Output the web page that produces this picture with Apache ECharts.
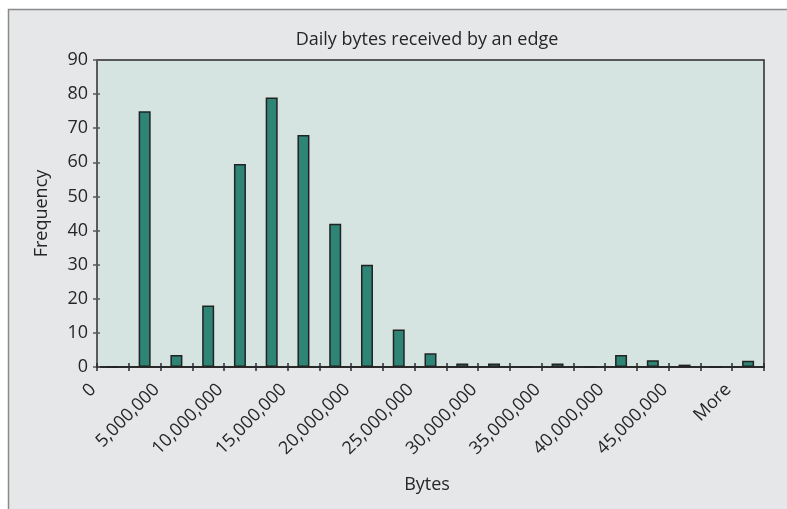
<!DOCTYPE html>
<html>
<head>
<meta charset="utf-8">
<script src="https://cdn.jsdelivr.net/npm/echarts@6/dist/echarts.min.js"></script>
<style>
html,body{margin:0;padding:0;background:#ffffff;}
#chart{width:787px;height:509px;}
</style>
</head>
<body>
<div id="chart"></div>
<script>
var categories = ['0','2,500,000','5,000,000','7,500,000','10,000,000','12,500,000','15,000,000','17,500,000','20,000,000','22,500,000','25,000,000','27,500,000','30,000,000','32,500,000','35,000,000','37,500,000','40,000,000','42,500,000','45,000,000','47,500,000','More'];
var frequency = [0, 75, 3.5, 18, 59.5, 79, 68, 42, 30, 11, 4, 1, 1, 0, 1, 0, 3.5, 2, 0.7, 0, 1.8];
var yTicks = {min: 0, max: 90, interval: 10};
var titleText = 'Daily bytes received by an edge';
var xName = 'Bytes';
var yName = 'Frequency';

var FONT = 'Open Sans';
var TXT = '#262626';
var chart = echarts.init(document.getElementById('chart'), null, {renderer: 'canvas'});
var option = {
  animation: false,
  backgroundColor: '#ffffff',
  graphic: [{
    type: 'rect', z: -10, silent: true,
    shape: {x: 8.5, y: 9.5, width: 800, height: 520},
    style: {fill: '#e6e7e9', stroke: '#8a8a8a', lineWidth: 1.5}
  }],
  title: {
    text: titleText, left: 427, top: 31, padding: 0, textAlign: 'center',
    textStyle: {fontFamily: FONT, fontSize: 18, fontWeight: 'normal', color: TXT}
  },
  grid: {
    left: 97, right: 23, top: 60, bottom: 142,
    show: true, backgroundColor: '#d6e4e1', borderColor: '#2a2a2a', borderWidth: 1.5
  },
  xAxis: [{
    type: 'category', data: categories, boundaryGap: true,
    name: xName, nameLocation: 'middle', nameGap: 109,
    nameTextStyle: {fontFamily: FONT, fontSize: 18, color: TXT, padding: [0, 7, 0, 0]},
    axisLine: {lineStyle: {color: '#2a2a2a', width: 2}},
    axisTick: {show: true, interval: 0, length: 4, lineStyle: {color: '#2a2a2a', width: 1.5}},
    axisLabel: {interval: 1, rotate: 45, margin: 0, padding: [0, 28, 0, 0],
      fontFamily: FONT, fontSize: 18, color: TXT},
    splitLine: {show: false}
  }, {
    type: 'category', data: categories, boundaryGap: true, position: 'bottom',
    axisLine: {show: false},
    axisTick: {show: true, inside: true, interval: 0, length: 4, lineStyle: {color: '#2a2a2a', width: 1.5}},
    axisLabel: {show: false}, splitLine: {show: false}
  }],
  yAxis: [{
    type: 'value', min: yTicks.min, max: yTicks.max, interval: yTicks.interval,
    name: yName, nameLocation: 'middle', nameGap: 46,
    nameTextStyle: {fontFamily: FONT, fontSize: 18, color: TXT},
    axisLine: {show: true, lineStyle: {color: '#5a5a5a', width: 2}},
    axisTick: {show: true, length: 4, lineStyle: {color: '#5a5a5a', width: 1.5}},
    axisLabel: {margin: 9, fontFamily: FONT, fontSize: 18, color: TXT},
    splitLine: {show: false}
  }, {
    type: 'value', min: yTicks.min, max: yTicks.max, interval: yTicks.interval, position: 'left',
    axisLine: {show: false},
    axisTick: {show: true, inside: true, length: 3, lineStyle: {color: '#5a5a5a', width: 1.5}},
    axisLabel: {show: false}, splitLine: {show: false}
  }],
  series: [{
    type: 'bar', data: frequency, barWidth: 12,
    itemStyle: {color: '#2e8475', borderColor: '#222222', borderWidth: 1.5}
  }]
};
chart.setOption(option);
</script>
</body>
</html>
